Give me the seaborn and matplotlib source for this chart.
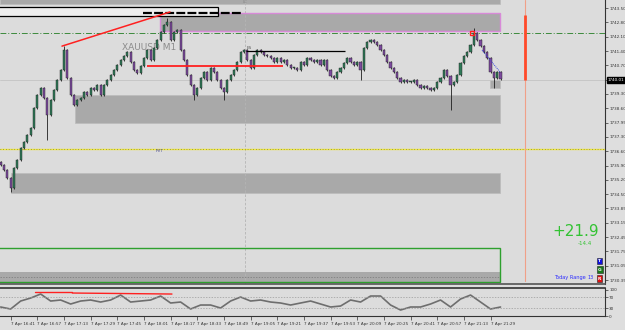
import numpy as np
import pandas as pd
import seaborn as sns
import matplotlib.pyplot as plt
from matplotlib.patches import Rectangle
from matplotlib.transforms import blended_transform_factory

# ---- data (XAUUSD M1, 7 Apr) ----
# x axis = minutes after 16:25, one candle every 2 minutes
bar_start = 10
bar_step = 2
first_open = 1736.05
closes = [
    1735.91, 1735.67, 1735.28, 1734.80, 1735.77, 1736.15, 1736.73, 1737.02, 1737.36, 1737.70,
    1738.67, 1739.30, 1739.63, 1739.15, 1738.33, 1739.05, 1739.54, 1740.02, 1740.50, 1741.47,
    1740.12, 1739.30, 1738.81, 1739.05, 1739.15, 1739.44, 1739.30, 1739.63, 1739.54, 1739.78,
    1739.30, 1739.78, 1740.02, 1740.26, 1740.50, 1740.75, 1740.99, 1741.18, 1741.38, 1740.89,
    1740.50, 1740.36, 1740.70, 1741.09, 1741.47, 1740.99, 1741.57, 1741.96, 1742.34, 1742.68,
    1742.83, 1741.96, 1742.34, 1742.44, 1741.47, 1740.99, 1740.26, 1739.78, 1739.30, 1739.63,
    1740.12, 1740.41, 1740.02, 1740.60, 1740.41, 1740.02, 1739.63, 1739.44, 1740.02, 1740.26,
    1740.50, 1740.89, 1741.38, 1741.47, 1740.99, 1740.60, 1741.23, 1741.47, 1741.38, 1741.23,
    1741.18, 1741.09, 1740.89, 1741.09, 1740.89, 1740.99, 1740.75, 1740.60, 1740.60, 1740.50,
    1740.89, 1740.75, 1741.09, 1740.99, 1740.89, 1740.99, 1740.75, 1740.99, 1740.50, 1740.21,
    1740.12, 1740.41, 1740.60, 1740.84, 1741.09, 1740.89, 1740.75, 1740.89, 1740.50, 1741.57,
    1741.86, 1741.96, 1741.86, 1741.71, 1741.47, 1741.23, 1740.89, 1740.60, 1740.41, 1740.12,
    1739.92, 1740.02, 1739.92, 1739.92, 1740.02, 1739.78, 1739.63, 1739.73, 1739.63, 1739.54,
    1739.63, 1739.92, 1740.12, 1740.50, 1740.21, 1739.78, 1739.92, 1740.26, 1740.84, 1741.18,
    1741.38, 1741.71, 1742.29, 1741.96, 1741.67, 1741.38, 1741.09, 1740.41, 1740.12, 1740.41,
    1740.07,
]
# long wicks
spike_idx = [3, 14, 19, 50, 58, 67, 108, 135, 142, 148]
spike_price = [1734.60, 1737.12, 1741.66, 1743.02, 1739.05, 1739.05, 1740.02, 1738.57, 1742.54, 1739.63]

# oscillator sub window, one value every 6 minutes
osc_start = 10
osc_step = 6
osc_values = [
    34, 26.4, 56.6, 67.9, 83, 56.6, 60.4, 45.3, 56.6, 60.4,
    52.8, 60.4, 79.2, 52.8, 56.6, 60.4, 75.5, 49.1, 52.8, 26.4,
    41.5, 41.5, 30.2, 56.6, 71.7, 56.6, 60.4, 52.8, 49.1, 41.5,
    49.1, 56.6, 45.3, 34, 37.7, 60.4, 52.8, 75.5, 75.5, 41.5,
    22.6, 34, 34, 45.3, 60.4, 34, 64.2, 79.2, 52.8, 26.4,
    34,
]

# supply / demand zones: (start min, end min, low, high)
zone_start = [9.6, 105.6, 54.6, 16.2, 303.7]
zone_end = [309.7, 309.7, 309.7, 309.7, 309.7]
zone_low = [1743.70, 1742.41, 1737.94, 1734.56, 1739.63]
zone_high = [1743.95, 1743.26, 1739.30, 1735.52, 1740.02]

# 1740.00 sits under the current price box
price_ticks = ["1743.50", "1742.80", "1742.10", "1741.40", "1740.70", "", "1739.30",
               "1738.60", "1737.95", "1737.30", "1736.60", "1735.90", "1735.20", "1734.50",
               "1733.85", "1733.15", "1732.45", "1731.75", "1731.05", "1730.35"]
time_minutes = [16, 32, 48, 64, 80, 96, 112, 128, 144, 160, 176, 192, 208, 224, 240, 256, 272, 288, 304]
time_labels = ["7 Apr 16:41", "7 Apr 16:57", "7 Apr 17:13", "7 Apr 17:29", "7 Apr 17:45",
               "7 Apr 18:01", "7 Apr 18:17", "7 Apr 18:33", "7 Apr 18:49", "7 Apr 19:05",
               "7 Apr 19:21", "7 Apr 19:37", "7 Apr 19:53", "7 Apr 20:09", "7 Apr 20:25",
               "7 Apr 20:41", "7 Apr 20:57", "7 Apr 21:13", "7 Apr 21:29"]

sns.set_theme(style="white")
plt.rcParams["font.family"] = ["DejaVu Sans"]

bg = "#dcdcdc"
fig = plt.figure(figsize=(6.25, 3.3), dpi=100, facecolor="#dedede")
ax = fig.add_axes([0, 0.1394, 0.968, 0.8606], facecolor=bg)
ax2 = fig.add_axes([0, 0.0424, 0.968, 0.0848], facecolor=bg)

xmin, xmax = 9.6, 372.7
ax.set_xlim(xmin, xmax)
ax.set_ylim(1730.16, 1743.89)

# zones
for i in range(len(zone_start)):
    ax.add_patch(Rectangle((zone_start[i], zone_low[i]), zone_end[i] - zone_start[i],
                           zone_high[i] - zone_low[i], facecolor="#a9a9a9",
                           edgecolor="#bdbdbd", lw=0.6, zorder=1))
# pink border on the top zone
ax.add_patch(Rectangle((zone_start[1], zone_low[1]), zone_end[1] - zone_start[1],
                       zone_high[1] - zone_low[1], facecolor="none",
                       edgecolor="#d88ad8", lw=1.0, zorder=2))

# green box at the bottom
ax.add_patch(Rectangle((xmin, 1730.25), 309.7 - xmin, 0.49, facecolor="#a9a9a9",
                       edgecolor="none", zorder=1))
ax.hlines(1730.52, xmin, 309.7, color="#777777", lw=0.5, ls=(0, (2, 2)), zorder=2)
ax.add_patch(Rectangle((xmin - 2, 1730.25), 309.7 - xmin + 2, 1.65, facecolor="none",
                       edgecolor="#2ea02e", lw=1.0, zorder=2))

# black box at the very top
ax.add_patch(Rectangle((xmin - 2, 1743.12), 140.5 - xmin + 2, 0.43, facecolor="#eeeeee",
                       edgecolor="black", lw=0.9, zorder=3))
ax.hlines(1743.26, 95.4, 155.5, color="black", lw=1.6, ls=(0, (4, 1)), zorder=4)

# horizontal levels
ax.axhline(1742.29, color="#3d8a3d", lw=0.7, ls=(0, (6, 2, 1, 2)), zorder=2)
ax.axhline(1736.68, color="#f2ea3a", lw=1.0, zorder=2)
ax.axhline(1736.68, color="#555555", lw=0.5, ls=(0, (1, 3)), zorder=2)
ax.axhline(1740.02, color="#c4c4c4", lw=0.6, zorder=1)

# vertical lines
ax.axvline(156.4, color="#b4b4b4", lw=0.6, ls=(0, (3, 2)), zorder=1)
ax.axvline(324.7, ymin=(1730.30 - 1730.16) / 13.73, color="#f0a088", lw=0.8, zorder=2)
ax.vlines(324.7, 1740.02, 1743.16, color="#ff4a2a", lw=2.0, zorder=3)

# candles
minutes = bar_start + bar_step * np.arange(len(closes))
opens = [first_open] + closes[:-1]
highs = [max(o, c) + 0.04 for o, c in zip(opens, closes)]
lows = [min(o, c) - 0.04 for o, c in zip(opens, closes)]
for i, p in zip(spike_idx, spike_price):
    if p > highs[i]:
        highs[i] = p
    else:
        lows[i] = p
candles = pd.DataFrame({"m": minutes, "o": opens, "c": closes, "h": highs, "l": lows})
up = candles["c"] >= candles["o"]
ax.vlines(candles["m"], candles["l"], candles["h"], color="#1e1e1e", lw=0.6, zorder=5)
body = (candles["c"] - candles["o"]).abs().clip(lower=0.03)
ax.bar(candles["m"], body, bottom=candles[["o", "c"]].min(axis=1), width=1.3,
       color=np.where(up, "#2f7a58", "#7c4a9e"), edgecolor="#1e1e1e", linewidth=0.3, zorder=6)

# drawn objects
ax.plot([46.8, 111.6], [1741.66, 1743.31], color="#ff2020", lw=1.1, zorder=7)
ax.hlines(1740.70, 97.8, 179.5, color="#ff2020", lw=1.3, zorder=7)
ax.hlines(1741.42, 157.2, 216.7, color="black", lw=0.9, zorder=7)
ax.plot([298.9, 309.7], [1741.47, 1740.41], color="#3a4adf", lw=0.7, ls=(0, (1, 1)), zorder=7)
ax.plot([292.9], [1742.29], marker="s", ms=3, mfc="none", mec="#ff2020", mew=1.0, zorder=8)

ax.text(99, 1741.57, "XAUUSD M1", fontsize=6.5, color="#7e7e7e", alpha=0.85,
        ha="center", va="center", zorder=4)
ax.text(105.6, 1736.59, "PVT", fontsize=3, color="#4a4a9a", ha="center", va="center")
ax.text(156.4, 1743.79, "LC", fontsize=2.8, color="#888888", ha="center", va="center")
ax.text(157.5, 1741.55, "ES", fontsize=3, color="#555555", ha="left", va="center", zorder=8)

# right price scale
ax.yaxis.tick_right()
ax.set_yticks(np.linspace(1743.50, 1730.35, len(price_ticks)))
ax.set_yticklabels(price_ticks)
ax.tick_params(axis="y", labelsize=3, length=2, width=0.5, pad=1, colors="#333333",
               direction="out", right=True)
ax.set_xticks([])
for s in ["left", "top"]:
    ax.spines[s].set_visible(False)
ax.spines["right"].set_color("#333333")
ax.spines["right"].set_linewidth(0.8)
ax.spines["bottom"].set_color("#555555")
ax.spines["bottom"].set_linewidth(1.2)

tr = blended_transform_factory(ax.transAxes, ax.transData)
ax.text(1.004, 1740.01, "1740.01", transform=tr, fontsize=3, color="white", ha="left",
        va="center", bbox=dict(boxstyle="square,pad=0.2", fc="black", ec="black"), zorder=9)

# oscillator window
osc = pd.DataFrame({"m": osc_start + osc_step * np.arange(len(osc_values)), "v": osc_values})
sns.lineplot(data=osc, x="m", y="v", ax=ax2, color="#6e6e6e", lw=1.2)
ax2.set_xlim(xmin, xmax)
ax2.set_ylim(0, 105.7)
ax2.axhline(70, color="#9a9a9a", lw=0.5, ls=(0, (2, 2)))
ax2.axhline(30, color="#9a9a9a", lw=0.5, ls=(0, (2, 2)))
ax2.plot([30.6, 53], [90.6, 90.6], color="#ff2020", lw=1.0)
ax2.plot([53, 112.8], [86.8, 83], color="#ff2020", lw=1.0)
ax2.set_xlabel("")
ax2.set_ylabel("")
ax2.yaxis.tick_right()
ax2.set_yticks([100, 70, 30, 0])
ax2.set_yticklabels(["100", "70", "30", "0"])
ax2.tick_params(axis="y", labelsize=3, length=2, width=0.5, pad=1, colors="#333333")
ax2.set_xticks(time_minutes)
ax2.set_xticklabels(time_labels, ha="left")
ax2.tick_params(axis="x", labelsize=3, length=3, width=0.5, pad=1, colors="#333333",
                direction="out", bottom=True)
ax2.spines["left"].set_visible(False)
for s in ["right", "top", "bottom"]:
    ax2.spines[s].set_color("#333333")
    ax2.spines[s].set_linewidth(0.8)
ax2.spines["top"].set_linewidth(1.2)

# info panel text
fig.text(0.9216, 0.297, "+21.9", fontsize=11, color="#33c233", ha="center", va="center")
fig.text(0.936, 0.262, "-14.4", fontsize=4, color="#33c233", ha="center", va="center")
fig.text(0.937, 0.158, "Today Range", fontsize=3.6, color="#2c2cff", ha="right", va="center")
fig.text(0.9456, 0.158, "13", fontsize=3.6, color="#2c2cff", ha="center", va="center")
for yy, letter, col in [(0.209, "T", "#1010e0"), (0.183, "G", "#1a7a1a"), (0.156, "R", "#e01010")]:
    fig.text(0.9595, yy, letter, fontsize=3.2, color="white", ha="center", va="center",
             fontweight="bold",
             bbox=dict(boxstyle="square,pad=0.25", fc=col, ec="#222222", lw=0.4))

fig.savefig("out.png", dpi=100, facecolor=fig.get_facecolor())
